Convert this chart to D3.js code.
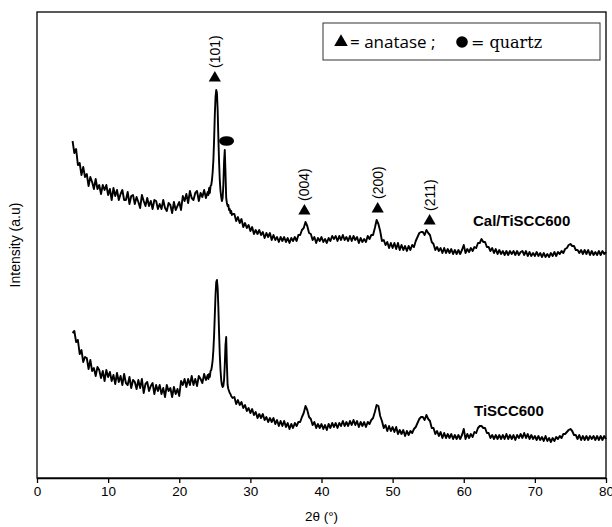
<!DOCTYPE html>
<html lang="en">
<head>
<meta charset="UTF-8">
<title>XRD patterns</title>
<script src="https://d3js.org/d3.v7.min.js"></script>
<style>
  body { margin: 0; background: #fff; }
  svg text { font-family: Arial, "Liberation Sans", sans-serif; fill: #000; }
</style>
</head>
<body>
<svg id="chart" width="612" height="527"></svg>
<script>
// 2theta grid: 0.25 deg steps, 0.1 deg around the main peaks
const twoTheta = [].concat(
  d3.range(500, 2401, 25).map(d => d / 100),
  d3.range(241, 276).map(d => d / 10),
  d3.range(2775, 8001, 25).map(d => d / 100)
);

// intensities (a.u.)
const calTiSCC600 = [
  // 5 - 24
  337,325,329,313,315,303,311,301,304,292,301,296,289,
  299,289,293,284, 293,288,293,283, 289,278,290,282, 288,278,284,288,
  278,278,286,274, 282,283,274,281, 276,270,283,277, 272,280,272,277,
  269,278,277,269, 274,269,278,270, 267,275,273,265, 276,268,272,276,
  268,282,277,284, 275,287,280,278, 285,287,277,285, 281,288,280,286,
  // 24.1 - 27.5
  283,290,285,292,293,298,306,318,338,363,381,388,385,368,340,316,298,287,
  281,277,280,293,316,328,306,280,275,272,273,268,269,265,267,263,264,
  // 27.75 - 80
  264,257,261,255,259,251,255,250,253,247,
  251,244,248,244, 248,243,246,240, 245,241,245,238, 243,238,241,236, 241,237,241,236,
  240,235,240,237, 241,237,243,243, 248,250,256,252, 245,244,238,241, 235,240,237,241,
  236,239,235,240, 237,242,239,242, 237,242,238,243, 238,241,237,242, 237,242,238,241,
  235,240,236,239, 236,242,239,243, 243,250,258,254, 247,237,238,233, 236,230,235,230,
  235,229,235,228, 233,228,232,227, 232,228,233,231, 237,241,245,246, 246,243,248,245,
  243,236,234,228, 231,227,230,225, 230,225,229,225, 229,224,228,224, 228,224,228,233,
  225,229,226,230, 227,231,230,235, 235,239,236,236, 231,231,227,230, 225,229,224,228,
  224,227,223,227, 223,227,224,227, 223,227,223,226, 227,223,227,222, 226,222,225,222,
  226,222,225,221, 225,221,224,221, 225,222,226,222, 226,224,227,225, 229,230,233,234,
  232,232,228,228, 225,228,224,228, 224,228,223,227, 223,226,223,227, 223,227,224,226
];

const tiSCC600 = [
  // 5 - 24
  145,147,136,138,124,128,116,121,120,109,118,107,110,
  102,111,108,100, 107,97,108,101, 106,97,103,94, 105,96,102,93,
  104,95,93,101, 90,98,96,89, 98,90,99,85, 94,96,87,92,
  95,84,93,87, 93,84,90,81, 93,87,90,81, 91,84,89,82,
  97,93,99,91, 99,93,102,93, 99,92,102,99, 95,104,98,103,
  // 24.1 - 27.5
  99,104,101,107,108,112,118,128,143,163,183,196,198,190,170,145,123,108,
  98,93,91,92,98,113,133,141,113,93,89,87,85,84,82,81,80,
  // 27.75 - 80
  81,74,78,73,76,70,73,67,70,65,
  69,63,66,60, 64,60,64,58, 61,56,60,56, 60,54,58,52, 57,52,57,51,
  55,49,54,50, 55,52,56,56, 61,65,72,68, 61,59,53,56, 50,54,50,54,
  49,53,48,54, 50,55,51,55, 50,55,52,57, 52,56,52,57, 53,58,53,57,
  51,56,52,56, 51,56,54,58, 60,66,73,72, 62,57,50,53, 47,52,47,51,
  46,51,44,48, 44,48,42,47, 43,47,45,49, 51,55,59,61, 61,58,63,59,
  57,50,50,44, 47,42,46,40, 45,40,44,40, 44,39,43,39, 43,39,43,49,
  39,44,40,44, 41,46,45,50, 52,52,50,50, 45,45,40,43, 39,43,39,43,
  39,43,39,44, 39,43,39,43, 38,43,40,44, 40,45,40,44, 39,43,39,42,
  38,42,38,41, 37,42,37,40, 36,40,37,41, 39,42,40,44, 44,46,48,49,
  47,43,43,39, 43,38,42,38, 42,38,42,39, 42,38,42,38, 42,38,42,39
];

const xTicks = [0, 10, 20, 30, 40, 50, 60, 70, 80];

// peak markers
const anataseTheta = [25.0, 37.6, 47.9, 55.2];
const anataseLevel = [400, 267, 269, 257];
const anataseLabels = ["(101)", "(004)", "(200)", "(211)"];
const quartzTheta = [26.65];
const quartzLevel = [337];

const seriesNames = ["Cal/TiSCC600", "TiSCC600"];

const svg = d3.select("#chart");
const margin = { top: 12, right: 6, bottom: 49, left: 37 };
const W = 612, H = 527;

const x = d3.scaleLinear().domain([0, 80]).range([margin.left, W - margin.right]);
const y = d3.scaleLinear().domain([0, 466]).range([H - margin.bottom, margin.top]);

const line = d3.line()
  .x((d, i) => x(twoTheta[i]))
  .y(d => y(d));

[calTiSCC600, tiSCC600].forEach(s => {
  svg.append("path")
    .attr("d", line(s))
    .attr("fill", "none")
    .attr("stroke", "#000")
    .attr("stroke-width", 1.9)
    .attr("stroke-linejoin", "round");
});

// frame
svg.append("rect")
  .attr("x", margin.left).attr("y", margin.top)
  .attr("width", W - margin.left - margin.right)
  .attr("height", H - margin.top - margin.bottom)
  .attr("fill", "none").attr("stroke", "#000").attr("stroke-width", 1.3);

// x axis
const xAxis = svg.append("g")
  .attr("transform", `translate(0,${H - margin.bottom})`)
  .call(d3.axisBottom(x).tickValues(xTicks).tickSize(5).tickSizeOuter(0).tickPadding(3));
xAxis.select(".domain").attr("stroke-width", 1.3);
xAxis.selectAll(".tick line").attr("stroke-width", 1.3);
xAxis.selectAll("text").attr("font-size", 13.5).attr("fill", "#000")
  .style("font-family", "Arial, 'Liberation Sans', sans-serif");

svg.append("text")
  .attr("x", (margin.left + W - margin.right) / 2)
  .attr("y", 521)
  .attr("text-anchor", "middle")
  .attr("font-size", 13.5)
  .text("2θ (°)");

svg.append("text")
  .attr("transform", "translate(20,245) rotate(-90)")
  .attr("text-anchor", "middle")
  .attr("font-size", 14)
  .text("Intensity (a.u)");

// anatase markers
const tri = d3.symbol().type(d3.symbolTriangle).size(64);
anataseTheta.forEach((t, i) => {
  svg.append("path")
    .attr("d", tri())
    .attr("transform", `translate(${x(t)},${y(anataseLevel[i])})`)
    .attr("fill", "#000");
  svg.append("text")
    .attr("transform", `translate(${x(t)},${y(anataseLevel[i]) - 10}) rotate(-90)`)
    .attr("dominant-baseline", "central")
    .attr("font-size", 14)
    .text(anataseLabels[i]);
});

// quartz marker
quartzTheta.forEach((t, i) => {
  svg.append("ellipse")
    .attr("cx", x(t)).attr("cy", y(quartzLevel[i]))
    .attr("rx", 7.5).attr("ry", 4.8)
    .attr("fill", "#000");
});

// series labels
svg.append("text").attr("x", 473).attr("y", 226)
  .attr("font-size", 15).attr("font-weight", "bold").text(seriesNames[0]);
svg.append("text").attr("x", 474).attr("y", 416)
  .attr("font-size", 15).attr("font-weight", "bold").text(seriesNames[1]);

// legend
const lg = svg.append("g");
lg.append("rect").attr("x", 323).attr("y", 23).attr("width", 277).attr("height", 37)
  .attr("fill", "#fff").attr("stroke", "#333").attr("stroke-width", 1);
lg.append("path").attr("d", d3.symbol().type(d3.symbolTriangle).size(80)())
  .attr("transform", "translate(341,42)").attr("fill", "#000");
lg.append("text").attr("x", 350).attr("y", 48)
  .style("font-family", "'Open Sans', sans-serif").attr("font-size", 17)
  .text("= anatase ;");
lg.append("circle").attr("cx", 462).attr("cy", 42).attr("r", 5.8).attr("fill", "#000");
lg.append("text").attr("x", 471).attr("y", 48)
  .style("font-family", "'DejaVu Serif', serif").attr("font-size", 16)
  .text("= quartz");
</script>
</body>
</html>
